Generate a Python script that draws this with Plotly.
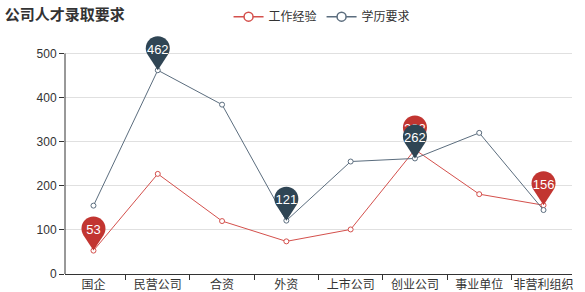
import plotly.graph_objects as go

categories = ["国企", "民营公司", "合资", "外资", "上市公司", "创业公司", "事业单位", "非营利组织"]
work_exp = [53, 227, 120, 74, 101, 282, 181, 156]
education = [155, 462, 384, 121, 255, 262, 320, 145]
series_names = ["工作经验", "学历要求"]
red_pins = ["国企", "创业公司", "非营利组织"]
dark_pins = ["民营公司", "外资", "创业公司"]
y_ticks = [0, 100, 200, 300, 400, 500]
y_max = 500

RED = "#c23531"
DARK = "#2f4554"
RED_LINE = "#d4504c"
DARK_LINE = "#5b6d7e"
FONT = "Liberation Sans, Noto Sans CJK SC, sans-serif"
CJK = "Noto Sans CJK SC, sans-serif"

fig = go.Figure()
for name, vals, col in [(series_names[0], work_exp, RED_LINE), (series_names[1], education, DARK_LINE)]:
    fig.add_trace(go.Scatter(
        x=categories, y=vals, name=name, mode="lines+markers",
        line=dict(color=col, width=1),
        marker=dict(symbol="circle", size=5, color="white", line=dict(color=col, width=1)),
        hoverinfo="x+y", showlegend=False, cliponaxis=False,
    ))
# legend entries (bigger hollow circle icons like the reference)
for name, col in [(series_names[0], RED_LINE), (series_names[1], DARK_LINE)]:
    fig.add_trace(go.Scatter(
        x=[None], y=[None], name=name, mode="lines+markers",
        line=dict(color=col, width=1.5),
        marker=dict(symbol="circle", size=9, color="white", line=dict(color=col, width=1.5)),
        showlegend=True,
    ))

PIN = ("M 0 44 M 0 0 L -10.06 15.46 C -11.32 17.41 -12 19.68 -12 22 "
       "C -12 28.63 -6.63 34 0 34 C 6.63 34 12 28.63 12 22 "
       "C 12 19.68 11.32 17.41 10.06 15.46 Z")
shapes = [
    # y-axis line drawn only from 0 to the top tick
    dict(type="line", xref="paper", yref="y", x0=0, x1=0, y0=0, y1=y_max,
         line=dict(color="#333", width=1), layer="above"),
]
for vals, pins, col in [(work_exp, red_pins, RED), (education, dark_pins, DARK)]:
    for c in pins:
        i = categories.index(c)
        v = vals[i]
        shapes.append(dict(
            type="path", xref="x", yref="y", xsizemode="pixel", ysizemode="pixel",
            xanchor=i, yanchor=v, path=PIN, fillcolor=col, line=dict(width=0),
            layer="above",
            label=dict(text=str(v), font=dict(color="white", size=13, family=FONT),
                       textposition="middle center", padding=0),
        ))

fig.update_layout(
    width=585, height=292,
    margin=dict(l=65, r=13, t=27, b=17.5, autoexpand=False),
    paper_bgcolor="white", plot_bgcolor="white",
    shapes=shapes,
    font=dict(family=FONT, color="#333", size=12),
    title=dict(text="<b>公司人才录取要求</b>", x=0.008, xanchor="left", y=0.95, yanchor="middle",
               font=dict(size=15, color="#333", family=CJK)),
    legend=dict(orientation="h", x=0.507, xanchor="center", yref="container", y=0.943,
                yanchor="middle",
                font=dict(size=12, color="#333", family=CJK),
                itemwidth=30, tracegroupgap=0, bgcolor="rgba(0,0,0,0)"),
    showlegend=True,
    xaxis=dict(type="category", showgrid=False, showline=True, linecolor="#333", linewidth=1,
               ticks="outside", ticklen=5, tickcolor="#333", tickson="boundaries", tickangle=0,
               tickfont=dict(size=12, color="#333", family=CJK),
               zeroline=False, fixedrange=True, automargin=False),
    yaxis=dict(range=[0, 560], tickvals=y_ticks, showgrid=True, gridcolor="#e0e0e0", gridwidth=1,
               showline=False, ticks="outside", ticklen=5,
               tickcolor="#333", tickfont=dict(size=12, color="#333"), zeroline=False,
               fixedrange=True, automargin=False),
)

fig.write_html("out.html", config={"displayModeBar": False},
               post_script="document.body.style.margin='0';")
